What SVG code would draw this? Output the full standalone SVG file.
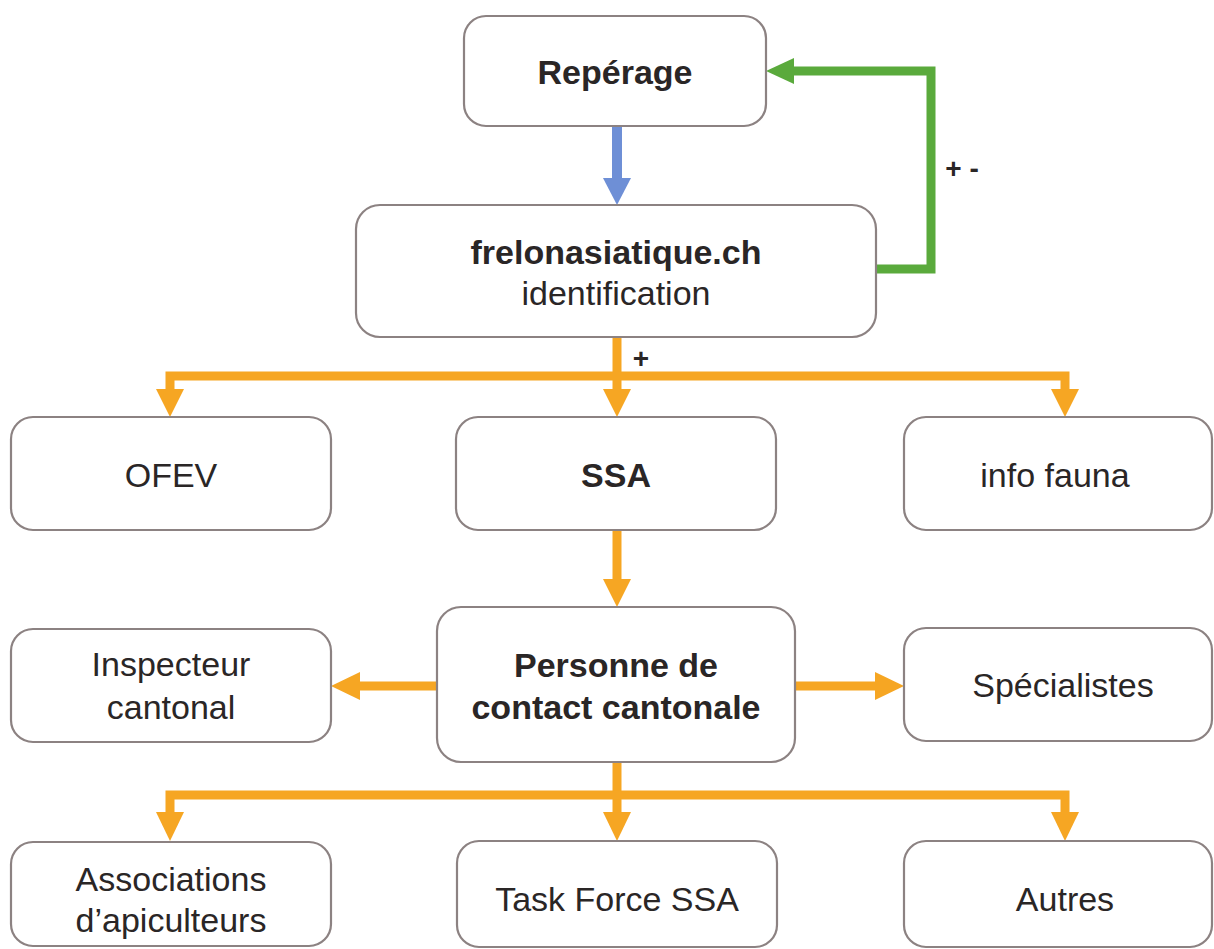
<svg xmlns="http://www.w3.org/2000/svg" width="1214" height="949" viewBox="0 0 1214 949">
<style>
.box{fill:#fff;stroke:#8c8282;stroke-width:2.2}
.t{font-family:"Liberation Sans",Arial,sans-serif;font-size:34px;fill:#2a2626;text-anchor:middle}
.b{font-weight:bold}
.or{stroke:#f6a623;stroke-width:9;fill:none}
.orf{fill:#f6a623}
.gr{stroke:#5aaa3c;stroke-width:9;fill:none}
</style>
<rect width="1214" height="949" fill="#fff"/>
<g id="connectors">
<line x1="617" y1="126" x2="617" y2="180" stroke="#6e8fd6" stroke-width="10"/>
<polygon points="603,178 631,178 617,205" fill="#6e8fd6"/>
<polyline class="gr" points="876,269 931,269 931,71 792,71"/>
<polygon points="766,71 794,58 794,84" fill="#5aaa3c"/>
<text x="962" y="178" class="t b" style="font-size:28px">+ -</text>
<line class="or" x1="617" y1="337" x2="617" y2="392"/>
<polyline class="or" points="170,392 170,376 1065,376 1065,392"/>
<polygon class="orf" points="156,389 184,389 170,417"/>
<polygon class="orf" points="603,389 631,389 617,417"/>
<polygon class="orf" points="1051,389 1079,389 1065,417"/>
<text x="641" y="368" class="t b" style="font-size:28px">+</text>
<line class="or" x1="617" y1="530" x2="617" y2="582"/>
<polygon class="orf" points="603,579 631,579 617,607"/>
<line class="or" x1="437" y1="686" x2="358" y2="686"/>
<polygon class="orf" points="331,686 360,672 360,700"/>
<line class="or" x1="795" y1="686" x2="878" y2="686"/>
<polygon class="orf" points="904,686 875,672 875,700"/>
<line class="or" x1="617" y1="762" x2="617" y2="815"/>
<polyline class="or" points="170,815 170,795 1065,795 1065,815"/>
<polygon class="orf" points="156,812 184,812 170,841"/>
<polygon class="orf" points="603,812 631,812 617,841"/>
<polygon class="orf" points="1051,812 1079,812 1065,841"/>
</g>
<g id="reperage"><rect class="box" x="464" y="16" width="302" height="110" rx="22"/><text class="t b" x="615" y="84">Repérage</text></g>
<g id="frelon"><rect class="box" x="356" y="205" width="520" height="132" rx="24"/><text class="t b" x="616" y="264">frelonasiatique.ch</text><text class="t" x="616" y="305">identification</text></g>
<g id="ofev"><rect class="box" x="11" y="417" width="320" height="113" rx="22"/><text class="t" x="171" y="487">OFEV</text></g>
<g id="ssa"><rect class="box" x="456" y="417" width="320" height="113" rx="22"/><text class="t b" x="616" y="487">SSA</text></g>
<g id="infofauna"><rect class="box" x="904" y="417" width="308" height="113" rx="22"/><text class="t" x="1055" y="487">info fauna</text></g>
<g id="personne"><rect class="box" x="437" y="607" width="358" height="155" rx="24"/><text class="t b" x="616" y="677">Personne de</text><text class="t b" x="616" y="719">contact cantonale</text></g>
<g id="inspecteur"><rect class="box" x="11" y="629" width="320" height="113" rx="22"/><text class="t" x="171" y="676">Inspecteur</text><text class="t" x="171" y="719">cantonal</text></g>
<g id="specialistes"><rect class="box" x="904" y="628" width="308" height="113" rx="22"/><text class="t" x="1063" y="697">Spécialistes</text></g>
<g id="associations"><rect class="box" x="11" y="842" width="320" height="104" rx="22"/><text class="t" x="171" y="891">Associations</text><text class="t" x="171" y="932">d’apiculteurs</text></g>
<g id="taskforce"><rect class="box" x="457" y="841" width="320" height="106" rx="22"/><text class="t" x="617" y="911">Task Force SSA</text></g>
<g id="autres"><rect class="box" x="904" y="841" width="308" height="106" rx="22"/><text class="t" x="1065" y="911">Autres</text></g>
</svg>
